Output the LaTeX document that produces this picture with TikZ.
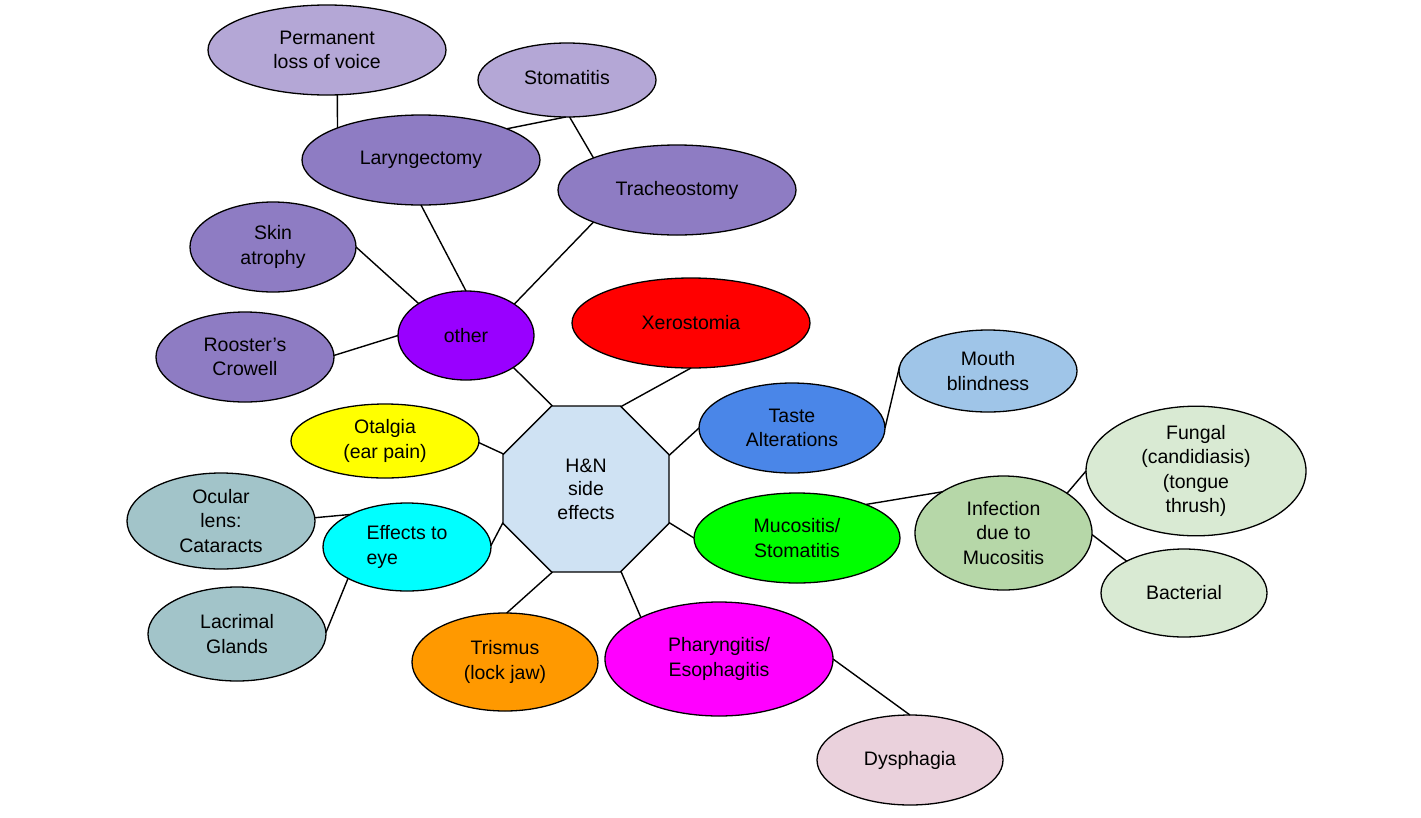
\documentclass[tikz,border=0pt]{standalone}
\usepackage{fontspec}
\setmainfont{Liberation Sans}
\usetikzlibrary{shapes.geometric}
\definecolor{lpurple}{HTML}{B4A7D6}
\definecolor{mpurple}{HTML}{8E7CC3}
\definecolor{vpurple}{HTML}{9900FF}
\definecolor{redc}{HTML}{FF0000}
\definecolor{mouthc}{HTML}{9FC5E8}
\definecolor{tastec}{HTML}{4A86E8}
\definecolor{yellowc}{HTML}{FFFF00}
\definecolor{hnc}{HTML}{CFE2F3}
\definecolor{eyeg}{HTML}{A2C4C9}
\definecolor{cyanc}{HTML}{00FFFF}
\definecolor{greenc}{HTML}{00FF00}
\definecolor{infc}{HTML}{B6D7A8}
\definecolor{fungc}{HTML}{D9EAD3}
\definecolor{orangec}{HTML}{FF9900}
\definecolor{magentac}{HTML}{FF00FF}
\definecolor{dysc}{HTML}{EAD1DC}
\tikzset{
  bubble/.style args={#1/#2/#3}{ellipse, draw=black, line width=1.3pt, fill=#1,
    minimum width=#2, minimum height=#3, inner sep=0pt, outer sep=0pt,
    align=center, font=\fontsize{19.5}{24.5}\selectfont},
  link/.style={line width=1.4pt, black},
}
\begin{document}
\begin{tikzpicture}[x=1pt,y=-1pt]
\useasboundingbox (0,0) rectangle (1421,817);
\fill[white] (0,0) rectangle (1421,817);

\node[bubble=lpurple/238pt/90pt] (perm) at (327,50) {Permanent\\loss of voice};
\node[bubble=lpurple/178pt/74pt] (stom) at (567,80) {\raisebox{5pt}{Stomatitis}};
\node[bubble=mpurple/238pt/90pt] (lar) at (421,160) {Laryngectomy};
\node[bubble=mpurple/238pt/90pt] (trach) at (677,190) {Tracheostomy};
\node[bubble=mpurple/166pt/90pt] (skin) at (273,247) {Skin\\atrophy};
\node[bubble=mpurple/178pt/90pt] (rooster) at (245,357) {Rooster’s\\Crowell};
\node[bubble=vpurple/136pt/89pt] (other) at (466,335.5) {other};
\node[bubble=redc/238pt/90pt] (xero) at (691,323) {Xerostomia};
\node[bubble=mouthc/178pt/82pt] (mouth) at (988,371) {Mouth\\blindness};
\node[bubble=tastec/186pt/90pt] (taste) at (792,428) {Taste\\Alterations};
\node[bubble=yellowc/188pt/74pt] (otal) at (385,441) {Otalgia\\(ear pain)};
\node[regular polygon, regular polygon sides=8, minimum size=179.7pt, inner sep=0pt, outer sep=0pt,
  draw=black, line width=1.3pt, fill=hnc, align=center, font=\fontsize{19.5}{23.5}\selectfont] (hn) at (586,489) {H\&N\\side\\effects};
\node[bubble=eyeg/188pt/96pt] (ocular) at (221,521) {Ocular\\lens:\\Cataracts};
\node[bubble=cyanc/168pt/88pt, align=left] (eye) at (407,547) {Effects to\\eye};
\node[bubble=eyeg/178pt/94pt] (lacr) at (237,634) {Lacrimal\\Glands};
\node[bubble=greenc/206pt/90pt] (muco) at (797,538) {Mucositis/\\Stomatitis};
\node[bubble=infc/177pt/114pt] (inf) at (1003.5,533) {Infection\\due to\\Mucositis};
\node[bubble=fungc/220pt/110pt] (fung) at (1196,471) {Fungal\\(candidiasis)\\(tongue\\thrush)};
\node[bubble=fungc/166pt/88pt] (bact) at (1184,593) {Bacterial};
\node[bubble=orangec/186pt/98pt] (tris) at (505,662) {Trismus\\(lock jaw)};
\node[bubble=magentac/228pt/114pt] (phar) at (719,659) {Pharyngitis/\\Esophagitis};
\node[bubble=dysc/186pt/90pt] (dys) at (910,760) {Dysphagia};

\draw[link] (perm.-77) -- (lar.159);
\draw[link] (lar.20) -- (stom.268);
\draw[link] (stom.274) -- (trach.159);
\draw[link] (lar.270) -- (other.90);
\draw[link] (trach.201) -- (other.33.6);
\draw[link] (skin.0) -- (other.146);
\draw[link] (rooster.1) -- (other.180);
\draw[link] (other.326) -- (hn.112.5);
\draw[link] (xero.270) -- (hn.67.5);
\draw[link] (taste.180) -- (hn.22.5);
\draw[link] (taste.0) -- (mouth.177);
\draw[link] (otal.-1) -- (hn.157.5);
\draw[link] (eye.1) -- (hn.202.5);
\draw[link] (ocular.2) -- (eye.150);
\draw[link] (eye.208.5) -- (lacr.1);
\draw[link] (muco.180) -- (hn.-22.5);
\draw[link] (muco.26) -- (inf.146);
\draw[link] (inf.32.4) -- (fung.180);
\draw[link] (inf.359) -- (bact.151.5);
\draw[link] (tris.88) -- (hn.-112.5);
\draw[link] (phar.152.6) -- (hn.-67.5);
\draw[link] (phar.0) -- (dys.90);
\end{tikzpicture}
\end{document}
